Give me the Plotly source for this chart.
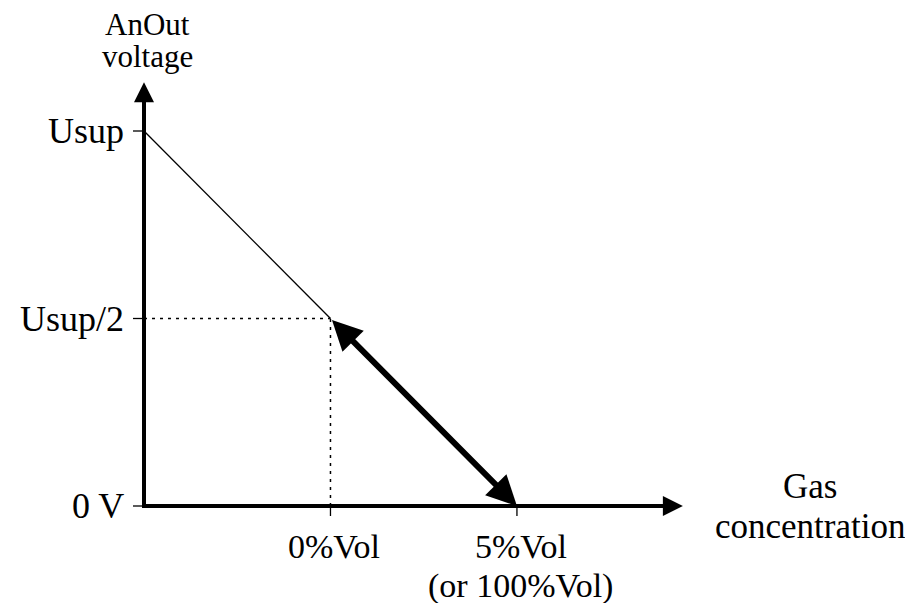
import plotly.graph_objects as go

# ---- data ----
x_tick_vals = [1, 2]
x_tick_labels = ["0%Vol", "5%Vol<br>(or 100%Vol)"]
y_tick_vals = [0, 1, 2]
y_tick_labels = ["0 V", "Usup/2", "Usup"]
x_title = "Gas<br>concentration"
y_title = "AnOut<br>voltage"

thin_x = [0, 1]          # Usup -> Usup/2
thin_y = [2, 1]
active_x = [1, 2]        # 0%Vol..5%Vol output range
active_y = [1, 0]
x_axis_end = 2.89
y_axis_end = 2.26
x_title_pos = 3.571
y_title_pos = 2.475

# ---- layout constants ----
W, H = 913, 603
PXX, PXY = 186.47, 187.5          # pixels per data unit
OX, OY = 136, 498                 # origin pixel inside the figure (page has an 8px body offset)
X_RANGE = [-OX / PXX, (W - OX) / PXX]
Y_RANGE = [-(H - OY) / PXY, OY / PXY]
UX = 1 / PXX
UY = 1 / PXY
FONT = "Liberation Serif"
TICK_FS = 36
XTICK_FS = 34
XT_FS = 35
YT_FS = 31

fig = go.Figure()

# axis lines
fig.add_trace(go.Scatter(x=[-2 * UX, x_axis_end - 8 * UX], y=[0, 0], mode="lines",
                         line=dict(color="black", width=4), hoverinfo="skip"))
fig.add_trace(go.Scatter(x=[0, 0], y=[-2 * UY, y_axis_end - 8 * UY], mode="lines",
                         line=dict(color="black", width=4), hoverinfo="skip"))

# ticks
tlx = 11 * UX
tly = 10 * UY
tx, ty = [], []
for v in y_tick_vals:
    tx += [-tlx, 0, None]
    ty += [v, v, None]
fig.add_trace(go.Scatter(x=tx, y=ty, mode="lines", line=dict(color="black", width=1.3),
                         hoverinfo="skip"))
tx, ty = [], []
for v in x_tick_vals:
    tx += [v, v, None]
    ty += [0, -tly, None]
fig.add_trace(go.Scatter(x=tx, y=ty, mode="lines", line=dict(color="black", width=1.3),
                         hoverinfo="skip"))

# dotted guides to the Usup/2 / 0%Vol point
fig.add_trace(go.Scatter(x=[0, active_x[0]], y=[active_y[0], active_y[0]], mode="lines",
                         line=dict(color="black", width=1.5, dash="3px,5px"), hoverinfo="skip"))
fig.add_trace(go.Scatter(x=[active_x[0], active_x[0]], y=[0, active_y[0]], mode="lines",
                         line=dict(color="black", width=1.5, dash="3px,5px"), hoverinfo="skip"))

# thin line
fig.add_trace(go.Scatter(x=thin_x, y=thin_y, mode="lines",
                         line=dict(color="black", width=1.3), hoverinfo="skip"))

ann = []
# axis arrow heads
ann.append(dict(x=x_axis_end, y=0, ax=x_axis_end - 0.3, ay=0, xref="x", yref="y",
                axref="x", ayref="y", text="", showarrow=True, arrowhead=2,
                arrowsize=1.0, arrowwidth=4, arrowcolor="black", standoff=0))
ann.append(dict(x=0, y=y_axis_end, ax=0, ay=y_axis_end - 0.3, xref="x", yref="y",
                axref="x", ayref="y", text="", showarrow=True, arrowhead=2,
                arrowsize=1.0, arrowwidth=4, arrowcolor="black", standoff=0))
# thick double arrow
ann.append(dict(x=active_x[1], y=active_y[1], ax=active_x[0], ay=active_y[0],
                xref="x", yref="y", axref="x", ayref="y", text=" ",
                font=dict(size=1), showarrow=True, arrowside="end+start",
                arrowhead=2, startarrowhead=2, arrowsize=1.0, startarrowsize=1.0,
                arrowwidth=6, arrowcolor="black", standoff=0, startstandoff=0))

# y tick labels
for v, lab in zip(y_tick_vals, y_tick_labels):
    ann.append(dict(x=-tlx, y=v, xref="x", yref="y", text=lab, showarrow=False,
                    xanchor="right", yanchor="middle", xshift=-7,
                    font=dict(family=FONT, size=TICK_FS, color="black")))

# x tick labels (one annotation per line for tight line spacing)
LINE_X = 39
for v, lab in zip(x_tick_vals, x_tick_labels):
    for i, line in enumerate(lab.split("<br>")):
        ann.append(dict(x=v, y=-tly, xref="x", yref="y", text=line, showarrow=False,
                        xanchor="center", yanchor="top", xshift=4, yshift=-10 - LINE_X * i,
                        font=dict(family=FONT, size=XTICK_FS, color="black")))

# x axis title
for i, line in enumerate(x_title.split("<br>")):
    ann.append(dict(x=x_title_pos, y=0, xref="x", yref="y", text=line, showarrow=False,
                    xanchor="center", yanchor="middle", yshift=20 - 40 * i,
                    font=dict(family=FONT, size=XT_FS, color="black")))

# y axis title
for i, line in enumerate(y_title.split("<br>")):
    ann.append(dict(x=0.021, y=y_title_pos, xref="x", yref="y", text=line, showarrow=False,
                    xanchor="center", yanchor="middle", yshift=17 - 32 * i,
                    font=dict(family=FONT, size=YT_FS, color="black")))

fig.update_layout(
    width=W, height=H, margin=dict(l=0, r=0, t=0, b=0),
    paper_bgcolor="white", plot_bgcolor="white", showlegend=False,
    xaxis=dict(range=X_RANGE, visible=False, fixedrange=True),
    yaxis=dict(range=Y_RANGE, visible=False, fixedrange=True),
    annotations=ann,
)
fig.write_html("out.html")
